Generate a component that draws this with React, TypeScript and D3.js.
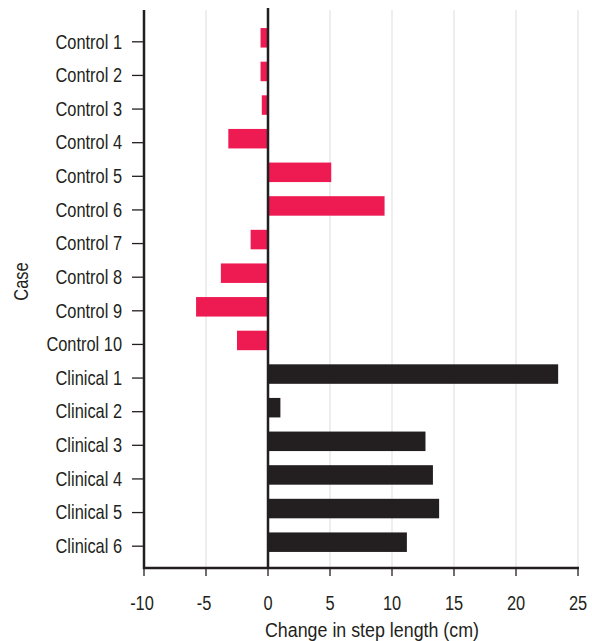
import React from "react";
import * as d3 from "d3";

const cases = [
  "Control 1", "Control 2", "Control 3", "Control 4", "Control 5",
  "Control 6", "Control 7", "Control 8", "Control 9", "Control 10",
  "Clinical 1", "Clinical 2", "Clinical 3", "Clinical 4", "Clinical 5", "Clinical 6",
];
const changes = [-0.6, -0.6, -0.5, -3.2, 5.1, 9.4, -1.4, -3.8, -5.8, -2.5, 23.4, 1.0, 12.7, 13.3, 13.8, 11.2];
const groups = ["control", "control", "control", "control", "control", "control", "control", "control", "control", "control",
  "clinical", "clinical", "clinical", "clinical", "clinical", "clinical"];
const xTicks = [-10, -5, 0, 5, 10, 15, 20, 25];
const xTitle = "Change in step length (cm)";
const yTitle = "Case";

const W = 592, H = 641;
const FONT = "'Liberation Sans', Arial, Helvetica, sans-serif";
const INK = "#231f20";
const PINK = "#ee1a52";
const FS = 20.5;

function T({ x, y, sx, anchor, children, rotate = 0 }: any) {
  return (
    <text transform={`translate(${x} ${y}) rotate(${rotate}) scale(${sx} 1)`} textAnchor={anchor}
      fontFamily={FONT} fontSize={FS} fill={INK}>{children}</text>
  );
}

export default function App() {
  const x = d3.scaleLinear().domain([-10, 25]).range([144, 578]);
  const y = d3.scaleBand<string>().domain(cases).range([25, 563]).paddingInner(0.42).paddingOuter(0.21);
  const axisTop = 10, axisBottom = 568;
  const bw = y.bandwidth();
  return (
    <svg width={W} height={H} style={{ position: "absolute", left: 0, top: 0, background: "#fff" }}>
      {xTicks.filter(t => t !== -10 && t !== 0).map(t => (
        <line key={"g" + t} x1={x(t)} x2={x(t)} y1={axisTop} y2={axisBottom} stroke="#e3e3e3" strokeWidth={1.2} />
      ))}
      {cases.map((c, i) => {
        const v = changes[i];
        const x0 = x(Math.min(0, v)), x1 = x(Math.max(0, v));
        return (
          <rect key={c} x={x0} y={(y(c) as number) - 4} width={x1 - x0} height={bw}
            fill={groups[i] === "control" ? PINK : INK} />
        );
      })}
      <line x1={x(0)} x2={x(0)} y1={8} y2={axisBottom} stroke={INK} strokeWidth={2.5} />
      <line x1={x(-10)} x2={x(-10)} y1={axisTop} y2={axisBottom + 1} stroke={INK} strokeWidth={2.5} />
      {cases.map(c => {
        const cy = (y(c) as number) + bw / 2;
        return (
          <g key={"yt" + c}>
            <line x1={132} x2={x(-10)} y1={cy} y2={cy} stroke={INK} strokeWidth={1.3} />
            <T x={122} y={cy + 6.8} sx={0.8} anchor="end">{c}</T>
          </g>
        );
      })}
      <line x1={x(-10) - 1} x2={x(25) + 1} y1={axisBottom} y2={axisBottom} stroke={INK} strokeWidth={2.5} />
      {xTicks.map(t => (
        <g key={"xt" + t}>
          <line x1={x(t)} x2={x(t)} y1={axisBottom} y2={axisBottom + 8} stroke={INK} strokeWidth={1.3} />
          <T x={x(t) - (t < 0 ? 2 : 0)} y={610} sx={0.8} anchor="middle">{t}</T>
        </g>
      ))}
      <T x={372} y={637} sx={0.87} anchor="middle">{xTitle}</T>
      <T x={28} y={281.5} sx={0.8} anchor="middle" rotate={-90}>{yTitle}</T>
    </svg>
  );
}
